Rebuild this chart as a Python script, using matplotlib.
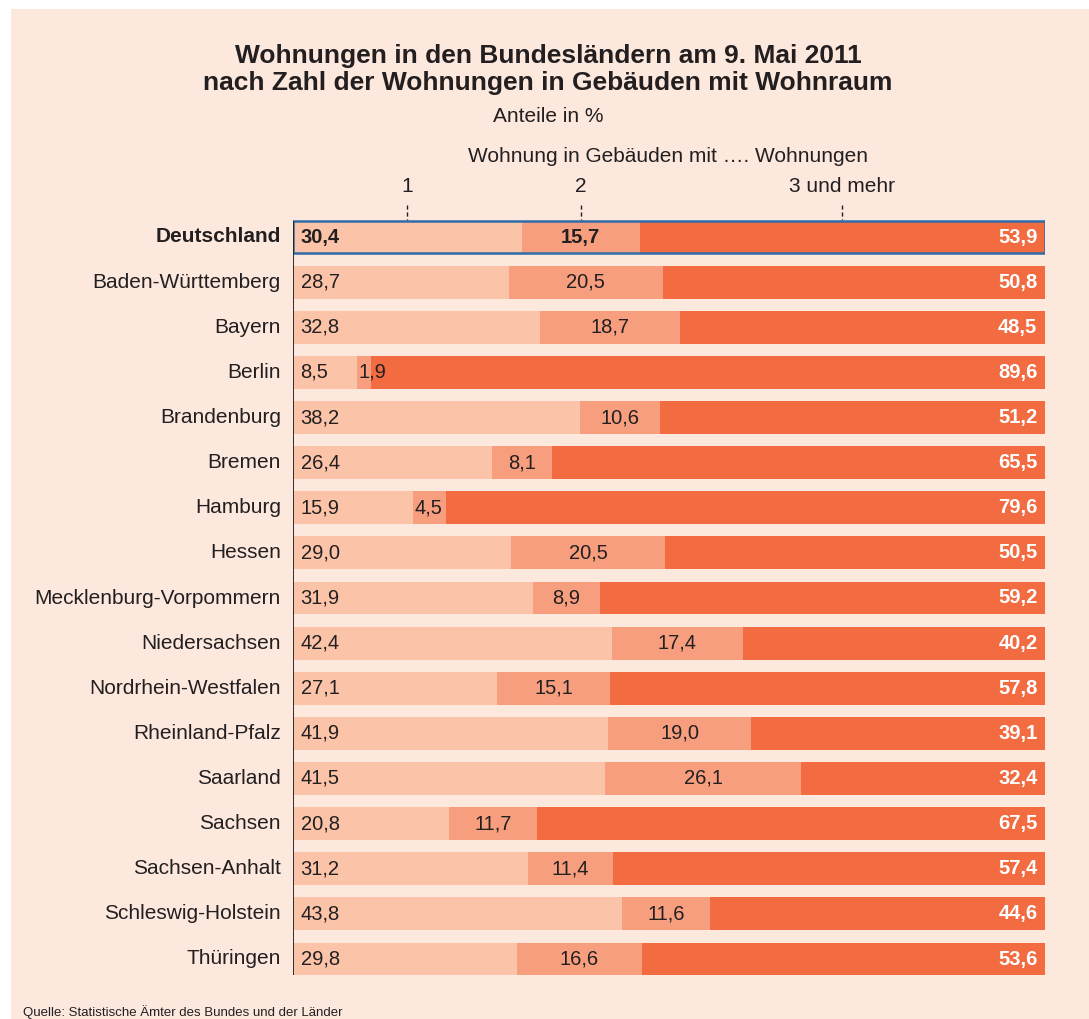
import matplotlib.pyplot as plt
from matplotlib.patches import Rectangle

# Data: Anteile in % (Wohnungen in Gebäuden mit 1 / 2 / 3+ Wohnungen)
laender = ['Deutschland', 'Baden-Württemberg', 'Bayern', 'Berlin', 'Brandenburg',
           'Bremen', 'Hamburg', 'Hessen', 'Mecklenburg-Vorpommern', 'Niedersachsen',
           'Nordrhein-Westfalen', 'Rheinland-Pfalz', 'Saarland', 'Sachsen',
           'Sachsen-Anhalt', 'Schleswig-Holstein', 'Thüringen']
eine_wohnung = [30.4, 28.7, 32.8, 8.5, 38.2, 26.4, 15.9, 29.0, 31.9, 42.4, 27.1, 41.9, 41.5, 20.8, 31.2, 43.8, 29.8]
zwei_wohnungen = [15.7, 20.5, 18.7, 1.9, 10.6, 8.1, 4.5, 20.5, 8.9, 17.4, 15.1, 19.0, 26.1, 11.7, 11.4, 11.6, 16.6]
drei_und_mehr = [53.9, 50.8, 48.5, 89.6, 51.2, 65.5, 79.6, 50.5, 59.2, 40.2, 57.8, 39.1, 32.4, 67.5, 57.4, 44.6, 53.6]
kategorien = ['1', '2', '3 und mehr']

c_light = '#FBC3A7'
c_mid = '#F69E7E'
c_dark = '#F26B41'
bg = '#FDE8DE'
txt = '#231F20'

plt.rcParams['font.family'] = ['Liberation Sans', 'DejaVu Sans']

W, H = 1089, 1019
fig = plt.figure(figsize=(W / 100, H / 100), dpi=100, facecolor='white')
fig.patches.append(Rectangle((11 / W, 0), 1 - 11 / W, 1 - 9 / H, transform=fig.transFigure,
                             facecolor=bg, edgecolor='none', zorder=-10))

def fx(px):
    return px / W

def fy(py):
    return 1 - py / H

step = (959 - 237) / 16
top_px = 237 - step / 2
bot_px = 959 + step / 2
ax = fig.add_axes([fx(293), fy(bot_px), fx(1045) - fx(293), fy(top_px) - fy(bot_px)])
ax.set_facecolor('none')
ax.set_xlim(0, 100)
ax.set_ylim(len(laender) - 0.5, -0.5)
ax.axis('off')

h = 0.73
y = list(range(len(laender)))
left2 = [a for a in eine_wohnung]
left3 = [a + b for a, b in zip(eine_wohnung, zwei_wohnungen)]
ax.barh(y, eine_wohnung, height=h, color=c_light, linewidth=0)
ax.barh(y, zwei_wohnungen, left=left2, height=h, color=c_mid, linewidth=0)
ax.barh(y, drei_und_mehr, left=left3, height=h, color=c_dark, linewidth=0)

# Deutschland frame
ax.add_patch(Rectangle((0, -h / 2), 100, h, facecolor='none', edgecolor='#2F6CA8', linewidth=1.8, zorder=5))
ax.vlines(0, -h / 2, len(laender) - 1 + h / 2, color=txt, linewidth=1.3, zorder=6)

fs = 14.5
for i, name in enumerate(laender):
    bold = 'bold' if i == 0 else 'normal'
    ax.text(-1.6, i, name, ha='right', va='center', fontsize=15, fontweight=bold, color=txt)
    ax.text(1.0, i, f'{eine_wohnung[i]:.1f}'.replace('.', ','), ha='left', va='center',
            fontsize=fs, fontweight=bold, color=txt)
    v2 = zwei_wohnungen[i]
    s2 = f'{v2:.1f}'.replace('.', ',')
    if v2 < 5:
        ax.text(left2[i] + 0.2, i, s2, ha='left', va='center', fontsize=fs, fontweight=bold, color=txt)
    else:
        ax.text(left2[i] + v2 / 2, i, s2, ha='center', va='center', fontsize=fs, fontweight=bold, color=txt)
    ax.text(99.0, i, f'{drei_und_mehr[i]:.1f}'.replace('.', ','), ha='right', va='center',
            fontsize=fs, fontweight='bold', color='white')

# category markers above the Deutschland bar
mids = [eine_wohnung[0] / 2, left2[0] + zwei_wohnungen[0] / 2, left3[0] + drei_und_mehr[0] / 2]
for m, k in zip(mids, kategorien):
    ax.plot([m, m], [-0.72, -0.37], color=txt, linewidth=1, linestyle=(0, (3, 2)), clip_on=False)
    ax.text(m, -1.11, k, ha='center', va='center', fontsize=15, color=txt)

fig.text(fx(548), fy(56), 'Wohnungen in den Bundesländern am 9. Mai 2011', ha='center', va='center',
         fontsize=19, fontweight='bold', color=txt)
fig.text(fx(548), fy(83), 'nach Zahl der Wohnungen in Gebäuden mit Wohnraum', ha='center', va='center',
         fontsize=19, fontweight='bold', color=txt)
fig.text(fx(548), fy(117), 'Anteile in %', ha='center', va='center', fontsize=15, color=txt)
fig.text(fx(668), fy(157), 'Wohnung in Gebäuden mit …. Wohnungen', ha='center', va='center',
         fontsize=15, color=txt)
fig.text(fx(23), fy(1012), 'Quelle: Statistische Ämter des Bundes und der Länder', ha='left', va='center',
         fontsize=9.5, color=txt)

fig.savefig('out.png', dpi=100, facecolor='white')
